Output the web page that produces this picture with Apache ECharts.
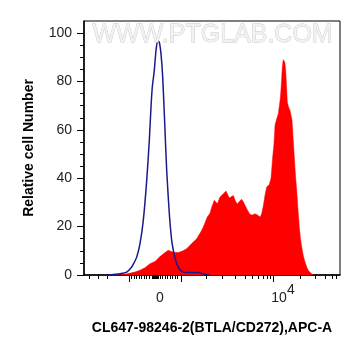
<!DOCTYPE html>
<html>
<head>
<meta charset="utf-8">
<script src="https://cdn.jsdelivr.net/npm/echarts@6/dist/echarts.min.js"></script>
<style>
html,body{margin:0;padding:0;background:#fff;}
#chart{width:361px;height:356px;}
</style>
</head>
<body>
<div id="chart"></div>
<script>
// x positions are in display-scale units (0..256 across the plot, biexponential display)
var isoX = [21, 24, 31, 36, 42.7, 47.7, 50, 52.7, 56, 59.3, 62.7, 65.3, 67, 68.3, 70.3, 72, 73.7, 75.3, 77, 78.7, 81, 82.7, 85.3, 87.7, 90, 92.7, 95.3, 99.3, 106, 114, 118, 122, 126];
var isoY = [0, 0, 0.3, 0.5, 1.2, 3.3, 5, 7.4, 13, 22.6, 39, 55.6, 69.4, 77.7, 84.6, 92.8, 97, 96.2, 91.4, 81.8, 59.8, 43.2, 25.4, 14.3, 8.8, 4.7, 2.6, 1.2, 1, 1, 0.6, 0.2, 0];

var sampleX = [28, 32.7, 41, 51, 56, 61, 66, 71, 76, 81, 84.3, 89.3, 94.3, 98, 102.7, 107.7, 112.7, 114.3, 117, 119.3, 121, 123.3, 126, 127.7, 130.3, 131.5, 133.3, 136, 137.7, 139.3, 142, 145.3, 147, 149.3, 151.5, 153.3, 155.5, 157.7, 159.3, 161, 163.5, 166, 168.5, 171, 173.5, 176, 177.5, 179.3, 181, 182.7, 185.3, 187, 188.7, 190, 191, 192.7, 194.3, 196, 196.7, 197.5, 198.3, 199.2, 200, 200.8, 201.7, 202.5, 203.3, 204.5, 206, 207, 208, 209.2, 210.3, 211.5, 212.7, 214, 215.3, 216.5, 217.7, 219.3, 221, 222.7, 224.3, 227, 229.3];
var sampleY = [0, 0.2, 0.3, 1.2, 2, 3, 4.7, 5.6, 7.6, 9.3, 10.2, 9.4, 9.3, 9.8, 10.9, 13, 15, 15.7, 18, 19.8, 20.2, 24, 25.5, 28, 30.9, 30.5, 29.5, 32.2, 32.9, 33.6, 34.7, 31.8, 32.5, 32.9, 30.5, 29.3, 30.5, 31.3, 30.3, 28.8, 26.8, 25, 24.8, 25.3, 24.8, 24, 25, 28.5, 33, 36.4, 37.4, 40, 48.8, 54.3, 62, 64.5, 66.7, 72, 74.9, 80, 85.9, 89, 89.8, 88, 84.6, 78, 71.5, 69.5, 68, 66, 64, 56, 48.8, 41, 35, 27, 19.8, 15, 11.6, 8, 5.4, 3.3, 1.9, 0.7, 0];

var yTickLabels = [0, 20, 40, 60, 80, 100];
var yMinorTicks = [5, 10, 15, 25, 30, 35, 45, 50, 55, 65, 70, 75, 85, 90, 95];
var xMajorTicks = [45.3, 97.7, 189.5];
var xMinorTicks = [5, 14, 23, 47.7, 50.3, 52.7, 55.3, 57.7, 60, 62.7, 65.3, 68.7, 69.7, 70.7, 71.7, 72.7, 73.7, 74.3, 76, 78.7, 81, 83.3, 86, 88.7, 91, 93.3, 122, 138, 151, 161, 168, 174, 179, 183, 186.5, 216, 231, 241, 248, 252];
var xLabelPos = [76, 199];
var xLabelText = ['0', '10{sup|4}'];

function pairs(xs, ys) { return xs.map(function (x, i) { return [x, ys[i]]; }); }

var FONT = 'Arial, "Liberation Sans", sans-serif';
var chart = echarts.init(document.getElementById('chart'), null, { renderer: 'canvas' });
chart.setOption({
  animation: false,
  backgroundColor: '#fff',
  grid: { left: 84, top: 21, right: 21, bottom: 81, show: true, borderColor: '#000', borderWidth: 1, backgroundColor: 'transparent' },
  graphic: [{
    type: 'text', left: 92, top: 22, z: 100,
    style: { text: 'WWW.PTGLAB.COM', font: '25px ' + FONT, fill: '#f2f2f2', stroke: '#c8c8c8', lineWidth: 0.8 }
  }],
  xAxis: [{
    type: 'value', min: 0, max: 256, position: 'bottom',
    name: 'CL647-98246-2(BTLA/CD272),APC-A', nameLocation: 'middle', nameGap: 46,
    nameTextStyle: { fontFamily: FONT, fontWeight: 'bold', fontSize: 14, color: '#000' },
    axisLine: { show: true, lineStyle: { color: '#000', width: 1.5 } },
    axisTick: { show: true, customValues: xMajorTicks, length: 7, lineStyle: { color: '#000', width: 1 } },
    axisLabel: {
      show: true, customValues: xLabelPos, margin: 8,
      formatter: function (v) { var i = xLabelPos.indexOf(v); return '{b|' + (i === 0 ? '0' : '10') + '}' + (i === 0 ? '' : '{sup|4}'); },
      rich: {
        b: { fontFamily: FONT, fontSize: 14, color: '#222', lineHeight: 22, verticalAlign: 'bottom' },
        sup: { fontFamily: FONT, fontSize: 14, color: '#222', lineHeight: 22, verticalAlign: 'top' }
      }
    },
    splitLine: { show: false }
  }, {
    type: 'value', min: 0, max: 256, position: 'bottom',
    axisLine: { show: false },
    axisTick: { show: true, customValues: xMinorTicks, length: 4, lineStyle: { color: '#000', width: 1 } },
    axisLabel: { show: false },
    splitLine: { show: false }
  }],
  yAxis: [{
    type: 'value', min: 0, max: 105, position: 'left',
    name: 'Relative cell Number', nameLocation: 'middle', nameGap: 48,
    nameTextStyle: { fontFamily: FONT, fontWeight: 'bold', fontSize: 14, color: '#000' },
    axisLine: { show: true, lineStyle: { color: '#000', width: 1.5 } },
    axisTick: { show: true, customValues: yTickLabels, length: 7, lineStyle: { color: '#000', width: 1 } },
    axisLabel: { show: true, customValues: yTickLabels, margin: 12, fontFamily: FONT, fontSize: 14, color: '#222' },
    splitLine: { show: false }
  }, {
    type: 'value', min: 0, max: 105, position: 'left',
    axisLine: { show: false },
    axisTick: { show: true, customValues: yMinorTicks, length: 4, lineStyle: { color: '#000', width: 1 } },
    axisLabel: { show: false },
    splitLine: { show: false }
  }],
  series: [{
    type: 'line', name: 'sample', data: pairs(sampleX, sampleY), showSymbol: false, symbol: 'none',
    lineStyle: { width: 0.5, color: '#ff0000' }, areaStyle: { color: '#ff0000', opacity: 1 }, z: 2
  }, {
    type: 'line', name: 'isotype', data: pairs(isoX, isoY), showSymbol: false, symbol: 'none', smooth: 0.2,
    lineStyle: { width: 1.5, color: '#1a1a8c' }, z: 3
  }]
});
</script>
</body>
</html>
